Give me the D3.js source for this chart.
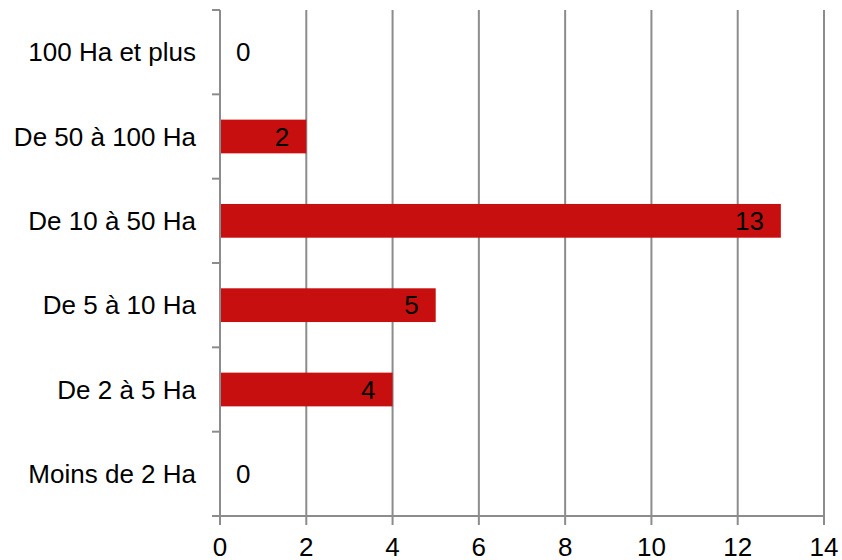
<!DOCTYPE html>
<html>
<head>
<meta charset="utf-8">
<script src="https://cdn.jsdelivr.net/npm/d3@7"></script>
<style>
  html, body { margin: 0; padding: 0; background: #ffffff; }
  svg { display: block; font-family: "Liberation Sans", Arial, sans-serif; }
</style>
</head>
<body>
<svg id="chart" width="842" height="560"></svg>
<script>
// Farm-size classes, listed bottom to top as drawn
const categories = ["Moins de 2 Ha", "De 2 à 5 Ha", "De 5 à 10 Ha", "De 10 à 50 Ha", "De 50 à 100 Ha", "100 Ha et plus"];
const counts = [0, 4, 5, 13, 2, 0];
const xTicks = [0, 2, 4, 6, 8, 10, 12, 14];

const W = 842, H = 560;
const margin = { top: 10, right: 18, bottom: 44, left: 220 };
const innerW = W - margin.left - margin.right;
const innerH = H - margin.top - margin.bottom;

const gridColor = "#8c8c8c";
const barColor = "#c80f0f";
const fontSize = 26;

const svg = d3.select("#chart");
const g = svg.append("g").attr("transform", `translate(${margin.left},${margin.top})`);

const x = d3.scaleLinear().domain([0, 14]).range([0, innerW]);
const y = d3.scaleBand()
  .domain(categories.slice().reverse())
  .range([0, innerH])
  .paddingInner(0.6)
  .paddingOuter(0.3);

const step = y.step();
const boundaries = categories.map(c => y(c) + y.bandwidth() / 2 - step / 2);
boundaries.push(innerH);

// Vertical gridlines
g.selectAll("line.grid")
  .data(xTicks.filter(t => t > 0))
  .join("line")
  .attr("class", "grid")
  .attr("x1", d => x(d)).attr("x2", d => x(d))
  .attr("y1", 0).attr("y2", innerH)
  .attr("stroke", gridColor).attr("stroke-width", 2);

// Bars
g.selectAll("rect.bar")
  .data(categories.map((c, i) => ({ c, v: counts[i] })))
  .join("rect")
  .attr("class", "bar")
  .attr("x", x(0) + 1)
  .attr("y", d => y(d.c))
  .attr("width", d => Math.max(0, x(d.v) - x(0) - 1))
  .attr("height", y.bandwidth())
  .attr("fill", barColor);

// Category axis line and boundary ticks
g.append("line")
  .attr("x1", 0).attr("x2", 0).attr("y1", 0).attr("y2", innerH)
  .attr("stroke", gridColor).attr("stroke-width", 2);
g.selectAll("line.ytick")
  .data(boundaries)
  .join("line")
  .attr("class", "ytick")
  .attr("x1", -8).attr("x2", 0)
  .attr("y1", d => d).attr("y2", d => d)
  .attr("stroke", gridColor).attr("stroke-width", 2);

// Category labels
g.selectAll("text.ylabel")
  .data(categories)
  .join("text")
  .attr("class", "ylabel")
  .attr("x", -24)
  .attr("y", d => y(d) + y.bandwidth() / 2)
  .attr("dy", "0.35em")
  .attr("text-anchor", "end")
  .attr("font-size", fontSize)
  .attr("fill", "#000")
  .text(d => d);

// Value axis
g.append("line")
  .attr("x1", -8).attr("x2", innerW).attr("y1", innerH).attr("y2", innerH)
  .attr("stroke", gridColor).attr("stroke-width", 2);
g.selectAll("line.xtick")
  .data(xTicks)
  .join("line")
  .attr("class", "xtick")
  .attr("x1", d => x(d)).attr("x2", d => x(d))
  .attr("y1", innerH).attr("y2", innerH + 9)
  .attr("stroke", gridColor).attr("stroke-width", 2);
g.selectAll("text.xlabel")
  .data(xTicks)
  .join("text")
  .attr("class", "xlabel")
  .attr("x", d => x(d))
  .attr("y", innerH + 40)
  .attr("text-anchor", "middle")
  .attr("font-size", fontSize)
  .attr("fill", "#000")
  .text(d => d);

// Value labels
g.selectAll("text.value")
  .data(categories.map((c, i) => ({ c, v: counts[i] })))
  .join("text")
  .attr("class", "value")
  .attr("x", d => d.v > 0 ? x(d.v) - 17 : x(0) + 16)
  .attr("y", d => y(d.c) + y.bandwidth() / 2)
  .attr("dy", "0.35em")
  .attr("text-anchor", d => d.v > 0 ? "end" : "start")
  .attr("font-size", fontSize)
  .attr("fill", "#000")
  .text(d => d.v);
</script>
</body>
</html>
